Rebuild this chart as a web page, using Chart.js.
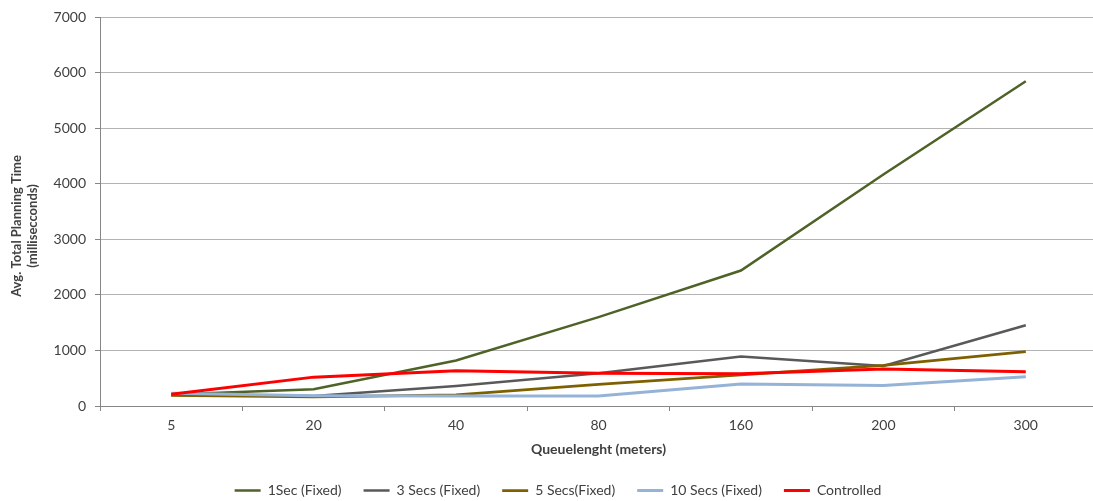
<!DOCTYPE html>
<html>
<head>
<meta charset="utf-8">
<script src="https://cdn.jsdelivr.net/npm/chart.js@4/dist/chart.umd.min.js"></script>
<style>
  html, body { margin: 0; padding: 0; background: #fff; overflow: hidden; }
  #wrap { width: 1097px; height: 501px; }
</style>
</head>
<body>
<div id="wrap"><canvas id="c" width="1097" height="501"></canvas></div>
<script>
// Queue length categories (meters)
const categories = ['5', '20', '40', '80', '160', '200', '300'];

// Average total planning time per strategy (milliseconds)
const oneSecFixed   = [205, 300, 820, 1600, 2440, 4170, 5850];
const threeSecFixed = [200, 180, 360, 590, 890, 720, 1455];
const fiveSecFixed  = [190, 165, 200, 390, 560, 730, 980];
const tenSecFixed   = [230, 185, 180, 180, 395, 370, 525];
const controlled    = [210, 520, 635, 590, 580, 665, 615];

const seriesNames = ['1Sec (Fixed)', '3 Secs (Fixed)', '5 Secs(Fixed)', '10 Secs (Fixed)', 'Controlled'];
const yTicks = [0, 1000, 2000, 3000, 4000, 5000, 6000, 7000];

const FONT = 'Lato, "Open Sans", sans-serif';
const TEXT = '#404040';

// Rotated two-line y-axis title
const yTitlePlugin = {
  id: 'yTitle',
  afterDraw(chart) {
    const ctx = chart.ctx;
    ctx.save();
    ctx.translate(17, 226);
    ctx.rotate(-Math.PI / 2);
    ctx.fillStyle = TEXT;
    ctx.font = 'bold 13px ' + FONT;
    ctx.textAlign = 'center';
    ctx.textBaseline = 'middle';
    ctx.fillText('Avg. Total Planning Time', 0, 0);
    ctx.fillText('(millisecconds)', 0, 16);
    ctx.restore();
  }
};

// Keep the legend row a fixed height below the x axis
const legendHeightPlugin = {
  id: 'legendHeight',
  beforeInit(chart) {
    const legend = chart.legend;
    if (!legend) return;
    const fit = legend.fit;
    legend.fit = function () {
      fit.call(this);
      this.height = 39.5;
    };
  }
};

function line(label, data, color, width, order) {
  return {
    label, data,
    borderColor: color,
    backgroundColor: color,
    borderWidth: width,
    pointRadius: 0,
    pointHoverRadius: 0,
    tension: 0,
    fill: false,
    order
  };
}

new Chart(document.getElementById('c'), {
  type: 'line',
  data: {
    labels: categories,
    datasets: [
      line(seriesNames[0], oneSecFixed,   '#4F6228', 2.5, 5),
      line(seriesNames[1], threeSecFixed, '#595959', 2.5, 4),
      line(seriesNames[2], fiveSecFixed,  '#7F6000', 2.75, 3),
      line(seriesNames[3], tenSecFixed,   '#95B3D7', 3, 2),
      line(seriesNames[4], controlled,    '#FF0000', 3, 1)
    ]
  },
  options: {
    responsive: false,
    animation: false,
    devicePixelRatio: 1,
    layout: { padding: { left: 19, right: 0, top: 16, bottom: 0 } },
    plugins: {
      tooltip: { enabled: false },
      legend: {
        position: 'bottom',
        labels: {
          usePointStyle: true,
          pointStyle: 'line',
          pointStyleWidth: 26,
          padding: 22,
          color: TEXT,
          font: { family: FONT, size: 14 },
          sort: (a, b) => a.datasetIndex - b.datasetIndex
        }
      }
    },
    scales: {
      x: {
        type: 'category',
        offset: true,
        grid: {
          offset: true,
          drawOnChartArea: false,
          drawTicks: true,
          tickLength: 5,
          color: '#868686'
        },
        border: { color: '#868686', width: 1 },
        ticks: {
          color: TEXT,
          padding: 6,
          maxRotation: 0,
          font: { family: FONT, size: 14 }
        },
        title: {
          display: true,
          text: 'Queuelenght (meters)',
          color: TEXT,
          font: { family: FONT, size: 14, weight: 'bold' },
          padding: { top: 4, bottom: 4 }
        },
        afterFit(scale) { scale.height = 55.5; }
      },
      y: {
        min: 0,
        max: 7000,
        afterBuildTicks(scale) { scale.ticks = yTicks.map(v => ({ value: v })); },
        grid: {
          color: '#B3B3B3',
          tickColor: '#868686',
          tickLength: 5,
          lineWidth: 1
        },
        border: { color: '#868686', width: 1 },
        ticks: {
          color: TEXT,
          padding: 9,
          font: { family: FONT, size: 14 },
          callback: (v) => String(v)
        },
        afterFit(scale) { scale.width = 81; }
      }
    }
  },
  plugins: [yTitlePlugin, legendHeightPlugin]
});
</script>
</body>
</html>
